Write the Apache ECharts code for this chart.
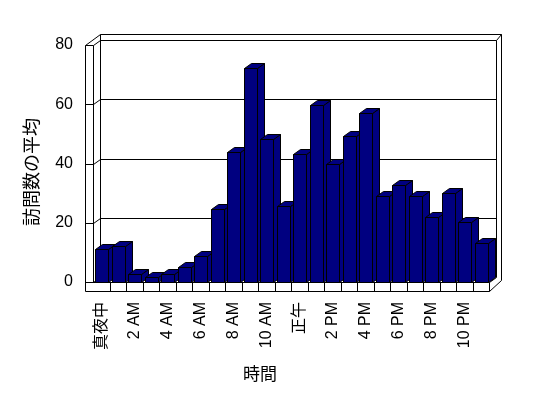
<!DOCTYPE html>
<html>
<head>
<meta charset="utf-8">
<script src="https://cdn.jsdelivr.net/npm/echarts@6/dist/echarts.min.js"></script>
<style>html,body{margin:0;padding:0;background:#fff;}#c{width:548px;height:398px;}</style>
</head>
<body>
<div id="c"></div>
<script>
// ---- data ----
var hourLabels = ['真夜中','1 AM','2 AM','3 AM','4 AM','5 AM','6 AM','7 AM','8 AM','9 AM','10 AM','11 AM',
                  '正午','1 PM','2 PM','3 PM','4 PM','5 PM','6 PM','7 PM','8 PM','9 PM','10 PM','11 PM'];
var avgVisits = [11.0, 12.0, 2.8, 1.8, 2.8, 5.0, 8.9, 24.8, 44.0, 72.1, 48.2, 25.8,
                 43.1, 59.9, 40.0, 49.2, 57.0, 29.0, 32.9, 29.0, 21.8, 30.0, 20.2, 13.0];
var yTickValues = [0, 20, 40, 60, 80];
var yMin = 0, yMax = 80, yStep = 20;
var xTitle = '時間';
var yTitle = '訪問数の平均';

// ---- styling ----
var FONT = '"Liberation Sans","Noto Sans CJK JP",sans-serif';
var DX = 7, DY = -5;          // depth offset of 3D look
var BAR = '#000080';
function p(v){ return Math.round(v) + 0.5; }

var chart = echarts.init(document.getElementById('c'), null, {renderer:'canvas'});

function frameRender(params, api){
  var cs = params.coordSys;
  var L = cs.x, R = cs.x + cs.width, T = cs.y, B = cs.y + cs.height;
  var w = api.size([1, 0])[0];
  var topOut = T + DY - 6, rightOut = R + 12, leftOut = L - 8, botOut = B + 9;
  var ch = [];
  var st = {stroke:'#000', lineWidth:1, fill:null};
  function line(pts){
    ch.push({type:'polyline', shape:{points:pts.map(function(q){return [p(q[0]), p(q[1])];})}, style:st, silent:true});
  }
  // outer contour
  line([[leftOut, botOut],[leftOut, T],[L+DX, topOut],[rightOut, topOut],[rightOut, B-2],[R, botOut],[leftOut, botOut]]);
  // left wall inner front edge
  line([[L, T],[L, B]]);
  // back wall left edge
  line([[L+DX, topOut],[L+DX, B+DY]]);
  // back wall right edge and corners
  line([[R+DX, T+DY],[R+DX, B+DY]]);
  line([[R+DX, T+DY],[rightOut, topOut]]);
  line([[R, B],[R, botOut]]);
  line([[R, B],[R+DX, B+DY]]);
  // gridlines
  yTickValues.forEach(function(v){
    var y = api.coord([0, v])[1];
    if (v === yMin) {
      line([[leftOut, y],[R, y]]);
      line([[L, y],[L+DX, y+DY]]);
    } else {
      line([[leftOut, y],[L, y],[L+DX, y+DY],[R+DX, y+DY]]);
    }
  });
  // floor front ticks at category boundaries
  for (var k = 1; k < hourLabels.length; k++) {
    var x = api.coord([k, 0])[0] - w / 2;
    line([[x, B],[x, botOut]]);
  }
  return {type:'group', children:ch};
}

function barRender(params, api){
  var i = api.value(0), v = api.value(1);
  var top = api.coord([i, v]), base = api.coord([i, 0]);
  var w = api.size([1, 0])[0];
  var x0 = p(top[0] - 0.375 * w), x1 = p(top[0] - 0.375 * w + 0.81 * w);
  var yt = p(top[1]), yb = p(base[1]);
  var st = {fill:BAR, stroke:'#000', lineWidth:1};
  return {type:'group', children:[
    {type:'polygon', shape:{points:[[x0,yt],[x1,yt],[x1,yb],[x0,yb]]}, style:st},
    {type:'polygon', shape:{points:[[x1,yt],[x1+DX,yt+DY],[x1+DX,yb+DY],[x1,yb]]}, style:st},
    {type:'polygon', shape:{points:[[x0,yt],[x0+DX,yt+DY],[x1+DX,yt+DY],[x1,yt]]}, style:st}
  ]};
}

chart.setOption({
  animation:false,
  backgroundColor:'#fff',
  grid:{left:93, right:59, top:45, bottom:116, containLabel:false},
  xAxis:{type:'category', data:hourLabels, boundaryGap:true,
    axisLine:{show:false}, axisTick:{show:false}, splitLine:{show:false},
    axisLabel:{interval:1, rotate:90, margin:20, color:'#000', fontSize:16, fontFamily:FONT}},
  yAxis:{type:'value', min:yMin, max:yMax, interval:yStep,
    axisLine:{show:false}, axisTick:{show:false}, splitLine:{show:false},
    axisLabel:{margin:20, color:'#000', fontSize:16, fontFamily:FONT}},
  graphic:[
    {type:'text', x:33, y:172, rotation:Math.PI/2,
     style:{text:yTitle, fill:'#000', font:'18px '+FONT, align:'center', verticalAlign:'middle'}},
    {type:'text', x:260, y:375,
     style:{text:xTitle, fill:'#000', font:'17px '+FONT, align:'center', verticalAlign:'middle'}}
  ],
  series:[
    {type:'custom', z:1, renderItem:frameRender, data:[[0,0]], silent:true},
    {type:'custom', z:2, renderItem:barRender,
     data:avgVisits.map(function(v, i){ return [i, v]; })}
  ]
});
</script>
</body>
</html>
